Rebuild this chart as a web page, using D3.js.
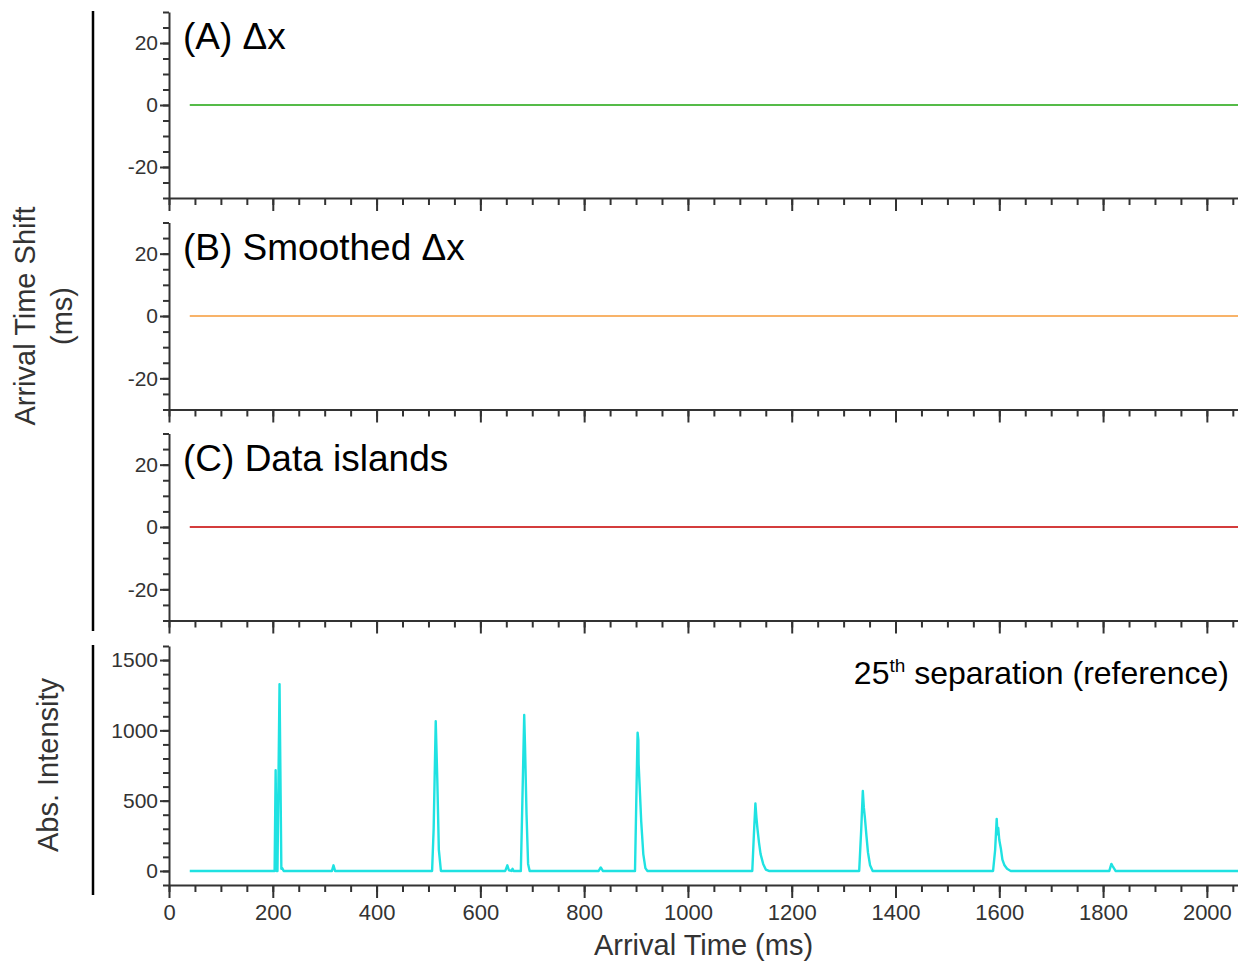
<!DOCTYPE html>
<html>
<head>
<meta charset="utf-8">
<script src="https://cdn.jsdelivr.net/npm/d3@7"></script>
<style>
  body { margin: 0; background: #fff; }
  svg { font-family: "Liberation Sans", Arial, sans-serif; }
  .axis path, .axis line { stroke: #333; stroke-width: 2; }
  .axis text { fill: #333; }
</style>
</head>
<body>
<figure id="chart" style="margin:0"></figure>
<script>
// shift panels: time shift vs arrival time (flat at zero)
const shiftTimes = [40, 2060];
const shiftDx = [0, 0];
const shiftSmoothed = [0, 0];
const shiftIslands = [0, 0];

const panelTitles = ["(A) \u0394x", "(B) Smoothed \u0394x", "(C) Data islands"];
const shiftTicks = [-20, 0, 20];
const intensityTicks = [0, 500, 1000, 1500];
const timeTicks = [0, 200, 400, 600, 800, 1000, 1200, 1400, 1600, 1800, 2000];

// 25th separation reference trace
const arrivalTime = [
  40, 203.5, 205.5, 207.5, 209, 213, 216.5, 218, 221,
  314, 317, 320,
  507, 510, 514, 517, 520, 524,
  648, 652, 655, 660, 662, 664,
  678, 681, 684.5, 686, 689, 692, 695,
  828, 832, 836,
  898, 901, 903, 904.5, 905, 907, 910, 914, 918, 922,
  1124, 1127, 1130, 1132, 1134, 1137, 1140, 1145, 1150, 1156,
  1330, 1334, 1337, 1339, 1341, 1344, 1347, 1351, 1356,
  1588, 1592, 1595, 1596.5, 1598, 1600, 1603, 1606, 1610, 1615, 1622,
  1812, 1816, 1819, 1824,
  2060
];
const absIntensity = [
  0, 0, 717, 0, 0, 1329, 15, 20, 0,
  0, 40, 0,
  0, 300, 1065, 650, 150, 0,
  0, 40, 5, 0, 15, 0,
  0, 500, 1109, 900, 400, 50, 0,
  0, 25, 0,
  0, 600, 983, 930, 760, 600, 350, 120, 20, 0,
  0, 250, 480, 380, 300, 200, 120, 50, 10, 0,
  0, 300, 569, 450, 380, 250, 130, 40, 0,
  0, 150, 370, 260, 305, 220, 160, 80, 40, 15, 0,
  0, 50, 30, 0,
  0
];

const W = 1238, H = 963;
const svg = d3.select("#chart").append("svg")
  .attr("width", W).attr("height", H);

const x = d3.scaleLinear().domain([0, 2060]).range([169, 1238]);
const minorTime = d3.range(0, 2061, 50);
const plain = d => String(d);

const shiftPanels = [
  { top: 12, bottom: 198, data: shiftDx, color: "#55bb48" },
  { top: 222.5, bottom: 409.5, data: shiftSmoothed, color: "#f8b369" },
  { top: 433.5, bottom: 620.5, data: shiftIslands, color: "#d43c3c" }
];

function drawXAxis(yPos, withLabels) {
  svg.append("g").attr("class", "axis")
    .attr("transform", "translate(0," + yPos + ")")
    .call(d3.axisBottom(x).tickValues(minorTime).tickSize(7).tickSizeOuter(0).tickFormat(""));
  const major = svg.append("g").attr("class", "axis")
    .attr("transform", "translate(0," + yPos + ")")
    .call(d3.axisBottom(x).tickValues(timeTicks).tickSize(13).tickSizeOuter(0)
      .tickFormat(withLabels ? plain : ""));
  major.select(".domain").remove();
  major.selectAll("text").style("font-size", "22px").attr("dy", "0.85em");
}

function drawYAxis(y, majors, minors) {
  svg.append("g").attr("class", "axis")
    .attr("transform", "translate(169,0)")
    .call(d3.axisLeft(y).tickValues(minors).tickSize(6).tickSizeOuter(0).tickFormat(""));
  const g = svg.append("g").attr("class", "axis")
    .attr("transform", "translate(169,0)")
    .call(d3.axisLeft(y).tickValues(majors).tickSize(9).tickSizeOuter(0).tickFormat(plain));
  g.select(".domain").remove();
  g.selectAll("text").style("font-size", "21px").attr("x", -11);
}

shiftPanels.forEach((p, i) => {
  const y = d3.scaleLinear().domain([-30, 30]).range([p.bottom, p.top]);
  drawYAxis(y, shiftTicks, d3.range(-30, 31, 5));
  drawXAxis(p.bottom, false);

  const line = d3.line()
    .x((d, j) => x(shiftTimes[j]))
    .y(d => y(d));
  svg.append("path")
    .datum(p.data)
    .attr("d", line)
    .attr("fill", "none")
    .attr("stroke", p.color)
    .attr("stroke-width", 2);

  svg.append("text")
    .attr("x", 183).attr("y", y(30) + 37)
    .style("font-size", "37px")
    .style("fill", "#000")
    .text(panelTitles[i]);
});

// intensity panel
const yI = d3.scaleLinear().domain([-100, 1600]).range([885, 646]);
drawYAxis(yI, intensityTicks, d3.range(-100, 1601, 100));
drawXAxis(885, true);

const traceLine = d3.line()
  .x((d, j) => x(arrivalTime[j]))
  .y(d => yI(d));
svg.append("path")
  .datum(absIntensity)
  .attr("d", traceLine)
  .attr("fill", "none")
  .attr("stroke", "#1fe2e2")
  .attr("stroke-width", 2.4)
  .attr("stroke-linejoin", "round");

const note = svg.append("text")
  .attr("x", 1229).attr("y", 684)
  .attr("text-anchor", "end")
  .style("font-size", "32px")
  .style("fill", "#000");
note.append("tspan").text("25");
note.append("tspan").attr("dy", -12).style("font-size", "19px").text("th");
note.append("tspan").attr("dy", 12).text(" separation (reference)");

// left brackets
svg.append("line").attr("x1", 93).attr("x2", 93).attr("y1", 11).attr("y2", 631)
  .attr("stroke", "#000").attr("stroke-width", 2.5);
svg.append("line").attr("x1", 93).attr("x2", 93).attr("y1", 645).attr("y2", 895)
  .attr("stroke", "#000").attr("stroke-width", 2.5);

// axis titles
const shiftTitle = svg.append("text")
  .attr("transform", "translate(0,316) rotate(-90)")
  .attr("text-anchor", "middle")
  .style("font-size", "29px")
  .style("fill", "#333");
shiftTitle.append("tspan").attr("x", 0).attr("y", 35).text("Arrival Time Shift");
shiftTitle.append("tspan").attr("x", 0).attr("y", 72).text("(ms)");

svg.append("text")
  .attr("transform", "translate(58,765) rotate(-90)")
  .attr("text-anchor", "middle")
  .style("font-size", "29px")
  .style("fill", "#333")
  .text("Abs. Intensity");

svg.append("text")
  .attr("x", x(1030)).attr("y", 955)
  .attr("text-anchor", "middle")
  .style("font-size", "29px")
  .style("fill", "#333")
  .text("Arrival Time (ms)");
</script>
</body>
</html>
